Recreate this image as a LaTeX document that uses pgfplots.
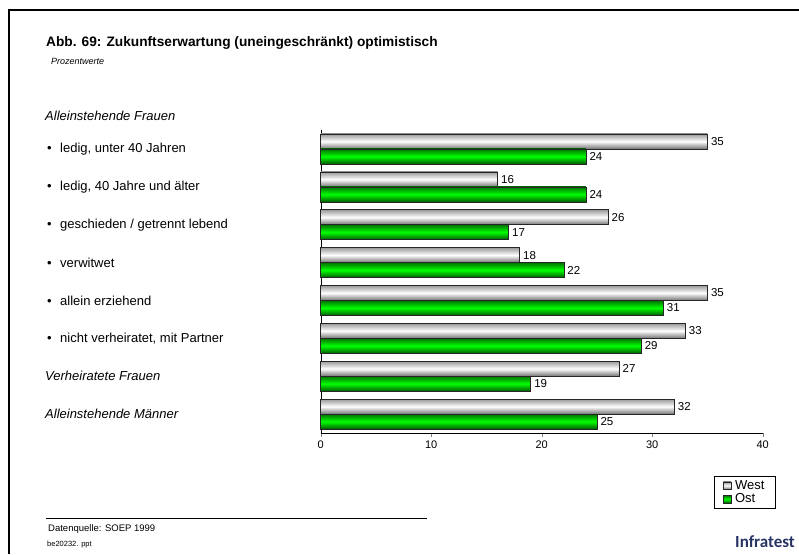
\documentclass[border=0pt]{standalone}
\usepackage{pgfplots}
\pgfplotsset{compat=1.18}
\usepackage{fontspec}
\setmainfont{Liberation Sans}
\newfontfamily\logofont{Carlito}
\definecolor{ostgreen}{RGB}{0,255,0}
\definecolor{infra}{RGB}{40,52,100}
\pgfplotsset{
  weststyle/.style={bar shift=7.5pt, draw=black!85, line width=0.6pt, top color=black!40, bottom color=black!55, middle color=white},
  oststyle/.style={bar shift=-7.5pt, draw=black!85, line width=0.6pt, top color=green!45!black, bottom color=green!35!black, middle color=ostgreen},
}
\begin{document}
\begin{tikzpicture}
\path[use as bounding box] (0pt,0pt) rectangle (799pt,554pt);
\draw[line width=2.5pt] (799pt,544pt) -- (9pt,544pt) -- (9pt,0pt);
\node[anchor=base west, inner sep=0, font=\fontsize{13.7}{16}\selectfont\bfseries] at (46pt,507pt) {Abb. 69: Zukunftserwartung (uneingeschränkt) optimistisch};
\node[anchor=base west, inner sep=0, font=\fontsize{9}{10}\selectfont\itshape] at (51pt,489pt) {Prozentwerte};
\node[anchor=base west, inner sep=0, font=\fontsize{13}{15}\selectfont\itshape] at (45pt,433pt) {Alleinstehende Frauen};
\draw[line width=0.8pt] (46pt,36pt) -- (427pt,36pt);
\node[anchor=base west, inner sep=0, font=\fontsize{9.5}{11}\selectfont] at (48pt,23pt) {Datenquelle: SOEP 1999};
\node[anchor=base west, inner sep=0, font=\fontsize{7.5}{9}\selectfont] at (47pt,8pt) {be20232. ppt};
\node[anchor=base west, inner sep=0, font=\fontsize{17}{19}\selectfont\logofont\bfseries, text=infra] at (735pt,7pt) {Infratest};
\begin{axis}[
  at={(320.7pt,121pt)}, anchor=south west,
  scale only axis, width=442pt, height=303pt,
  xbar, bar width=15pt,
  xmin=0, xmax=40, ymin=-0.5, ymax=7.5,
  axis x line*=bottom, axis y line*=left,
  xtick={0,10,20,30,40},
  xtick align=outside, major tick length=4pt,
  ytick={0,...,7},
  yticklabels={
    {\textit{Alleinstehende Männer}},
    {\textit{Verheiratete Frauen}},
    {\hspace*{2pt}\textbullet\hspace*{8.5pt}nicht verheiratet, mit Partner},
    {\hspace*{2pt}\textbullet\hspace*{8.5pt}allein erziehend},
    {\hspace*{2pt}\textbullet\hspace*{8.5pt}verwitwet},
    {\hspace*{2pt}\textbullet\hspace*{8.5pt}geschieden / getrennt lebend},
    {\hspace*{2pt}\textbullet\hspace*{8.5pt}ledig, 40 Jahre und älter},
    {\hspace*{2pt}\textbullet\hspace*{8.5pt}ledig, unter 40 Jahren}},
  y tick style={draw=none},
  yticklabel style={anchor=west, inner sep=0pt, xshift=-271.7pt, font=\fontsize{13}{15}\selectfont},
  xticklabel style={font=\fontsize{11}{13}\selectfont},
  /pgf/number format/assume math mode=true,
  point meta=x,
  nodes near coords,
  every node near coord/.append style={font=\fontsize{11.5}{13}\selectfont, anchor=west},
  legend style={at={(0.889,-0.142)}, anchor=north west, draw=black, line width=0.8pt,
    font=\fontsize{13}{13}\selectfont, inner xsep=9pt, inner ysep=2pt, row sep=-1pt, legend cell align=left,
    /tikz/every odd column/.append style={column sep=2pt}},
  legend image code/.code={\draw[#1, line width=0.5pt] (0pt,-3.7pt) rectangle (7.5pt,3.7pt);},
  clip=false,
]
\addplot[weststyle] coordinates {(35,7)};
\addplot[oststyle] coordinates {(24,7)};
\addplot[weststyle, forget plot] coordinates {(16,6)};
\addplot[oststyle, forget plot] coordinates {(24,6)};
\addplot[weststyle, forget plot] coordinates {(26,5)};
\addplot[oststyle, forget plot] coordinates {(17,5)};
\addplot[weststyle, forget plot] coordinates {(18,4)};
\addplot[oststyle, forget plot] coordinates {(22,4)};
\addplot[weststyle, forget plot] coordinates {(35,3)};
\addplot[oststyle, forget plot] coordinates {(31,3)};
\addplot[weststyle, forget plot] coordinates {(33,2)};
\addplot[oststyle, forget plot] coordinates {(29,2)};
\addplot[weststyle, forget plot] coordinates {(27,1)};
\addplot[oststyle, forget plot] coordinates {(19,1)};
\addplot[weststyle, forget plot] coordinates {(32,0)};
\addplot[oststyle, forget plot] coordinates {(25,0)};
\legend{West,Ost}
\end{axis}
\end{tikzpicture}
\end{document}
